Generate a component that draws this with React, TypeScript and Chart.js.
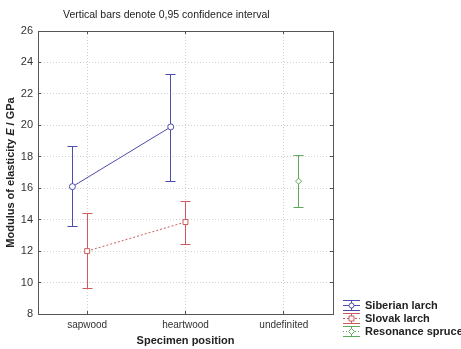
import React, { useEffect, useRef } from "react";
import { Chart, registerables } from "chart.js";

Chart.register(...registerables);

const categories = ["sapwood", "heartwood", "undefinited"];
const yTicks = [8, 10, 12, 14, 16, 18, 20, 22, 24, 26];

const siberianCat = [0, 1];
const siberianMean = [16.1, 19.9];
const siberianLow = [13.55, 16.45];
const siberianHigh = [18.65, 23.25];

const slovakCat = [0, 1];
const slovakMean = [12.0, 13.85];
const slovakLow = [9.6, 12.45];
const slovakHigh = [14.4, 15.15];

const spruceCat = [2];
const spruceMean = [16.45];
const spruceLow = [14.75];
const spruceHigh = [18.1];

const BLUE = "#4d4dab";
const RED = "#cc5c5c";
const GREEN = "#5ea85e";
const FONT = "'Liberation Sans', Arial, sans-serif";

type Series = {
  label: string;
  cat: number[];
  mean: number[];
  low: number[];
  high: number[];
  color: string;
  offset: number;
  dash: number[];
  pointStyle: string;
  radius: number;
};

const series: Series[] = [
  { label: "Siberian larch", cat: siberianCat, mean: siberianMean, low: siberianLow, high: siberianHigh, color: BLUE, offset: -0.15, dash: [], pointStyle: "circle", radius: 3 },
  { label: "Slovak larch", cat: slovakCat, mean: slovakMean, low: slovakLow, high: slovakHigh, color: RED, offset: 0, dash: [2, 2], pointStyle: "rect", radius: 3.5 },
  { label: "Resonance spruce", cat: spruceCat, mean: spruceMean, low: spruceLow, high: spruceHigh, color: GREEN, offset: 0.15, dash: [1, 2], pointStyle: "rectRot", radius: 3 },
];

const align = (p: number) => Math.round(p - 0.5) + 0.5;

function drawMarker(ctx: CanvasRenderingContext2D, style: string, x: number, y: number, r: number, color: string) {
  ctx.save();
  ctx.setLineDash([]);
  ctx.strokeStyle = color;
  ctx.fillStyle = "#fff";
  ctx.lineWidth = 1;
  ctx.beginPath();
  if (style === "circle") ctx.arc(x, y, r, 0, Math.PI * 2);
  else if (style === "rect") ctx.rect(x - r, y - r, 2 * r, 2 * r);
  else {
    ctx.moveTo(x, y - r - 0.5);
    ctx.lineTo(x + r + 0.5, y);
    ctx.lineTo(x, y + r + 0.5);
    ctx.lineTo(x - r - 0.5, y);
    ctx.closePath();
  }
  ctx.fill();
  ctx.stroke();
  ctx.restore();
}

const decorPlugin = {
  id: "decor",
  beforeDatasetsDraw(chart: any) {
    const ctx: CanvasRenderingContext2D = chart.ctx;
    const xs = chart.scales.x;
    const ys = chart.scales.y;
    ctx.save();
    ctx.lineWidth = 1;
    ctx.setLineDash([]);
    series.forEach((s) => {
      ctx.strokeStyle = s.color;
      s.cat.forEach((c, i) => {
        const x = align(xs.getPixelForValue(c + s.offset));
        const yl = align(ys.getPixelForValue(s.low[i]));
        const yh = align(ys.getPixelForValue(s.high[i]));
        ctx.beginPath();
        ctx.moveTo(x, yl);
        ctx.lineTo(x, yh);
        ctx.moveTo(x - 5, yl);
        ctx.lineTo(x + 5, yl);
        ctx.moveTo(x - 5, yh);
        ctx.lineTo(x + 5, yh);
        ctx.stroke();
      });
    });
    ctx.restore();
  },
  afterDraw(chart: any) {
    const ctx: CanvasRenderingContext2D = chart.ctx;
    const a = chart.chartArea;
    const xs = chart.scales.x;
    const ys = chart.scales.y;
    ctx.save();
    // frame
    ctx.strokeStyle = "#555";
    ctx.lineWidth = 1;
    ctx.strokeRect(align(a.left), align(a.top), Math.round(a.right - a.left), Math.round(a.bottom - a.top));
    // inner ticks
    ctx.beginPath();
    yTicks.forEach((v) => {
      const y = align(ys.getPixelForValue(v));
      ctx.moveTo(a.left, y);
      ctx.lineTo(a.left + 3, y);
      ctx.moveTo(a.right, y);
      ctx.lineTo(a.right - 3, y);
    });
    categories.forEach((_, i) => {
      const x = align(xs.getPixelForValue(i));
      ctx.moveTo(x, a.bottom);
      ctx.lineTo(x, a.bottom - 3);
      ctx.moveTo(x, a.top);
      ctx.lineTo(x, a.top + 3);
    });
    ctx.stroke();

    // title
    ctx.fillStyle = "#222";
    ctx.font = `10.5px ${FONT}`;
    ctx.textAlign = "left";
    ctx.textBaseline = "middle";
    ctx.fillText("Vertical bars denote 0,95 confidence interval", 63, 15);

    // x title
    ctx.font = `bold 11px ${FONT}`;
    ctx.textAlign = "center";
    ctx.fillText("Specimen position", (a.left + a.right) / 2, 341);

    // y title with italic E
    ctx.save();
    ctx.translate(11, (a.top + a.bottom) / 2);
    ctx.rotate(-Math.PI / 2);
    const p1 = "Modulus of elasticity ";
    const p2 = "E";
    const p3 = " / GPa";
    const fB = `bold 11px ${FONT}`;
    const fBI = `italic bold 11px ${FONT}`;
    ctx.font = fB;
    const w1 = ctx.measureText(p1).width;
    const w3 = ctx.measureText(p3).width;
    ctx.font = fBI;
    const w2 = ctx.measureText(p2).width;
    const x0 = -(w1 + w2 + w3) / 2;
    ctx.textAlign = "left";
    ctx.font = fB;
    ctx.fillText(p1, x0, 0);
    ctx.font = fBI;
    ctx.fillText(p2, x0 + w1, 0);
    ctx.font = fB;
    ctx.fillText(p3, x0 + w1 + w2, 0);
    ctx.restore();

    // legend
    const lx = 343;
    const rows = [305, 318, 331];
    series.forEach((s, i) => {
      const y = rows[i] + 0.5;
      ctx.strokeStyle = s.color;
      ctx.lineWidth = 1;
      ctx.setLineDash([]);
      ctx.beginPath();
      ctx.moveTo(lx, y - 5);
      ctx.lineTo(lx + 17, y - 5);
      ctx.moveTo(lx, y + 5);
      ctx.lineTo(lx + 17, y + 5);
      ctx.moveTo(lx + 8.5, y - 5);
      ctx.lineTo(lx + 8.5, y + 5);
      ctx.stroke();
      ctx.setLineDash(s.dash);
      ctx.beginPath();
      ctx.moveTo(lx, y);
      ctx.lineTo(lx + 17, y);
      ctx.stroke();
      ctx.setLineDash([]);
      drawMarker(ctx, s.pointStyle, lx + 8.5, y, 2.5, s.color);
      ctx.fillStyle = "#222";
      ctx.font = `bold 11px ${FONT}`;
      ctx.textAlign = "left";
      ctx.textBaseline = "middle";
      ctx.fillText(s.label, 365, rows[i] + 0.5);
    });
    ctx.restore();
  },
};

export default function App() {
  const ref = useRef<HTMLCanvasElement>(null);
  useEffect(() => {
    if (!ref.current) return;
    const datasets = series.map((s) => ({
      label: s.label,
      data: s.cat.map((c, i) => ({ x: c + s.offset, y: s.mean[i] })),
      showLine: true,
      borderColor: s.color,
      borderWidth: 1,
      borderDash: s.dash,
      pointStyle: s.pointStyle,
      pointRadius: s.radius,
      pointBorderColor: s.color,
      pointBackgroundColor: "#fff",
      pointBorderWidth: 1,
    }));
    const chart = new Chart(ref.current, {
      type: "scatter",
      data: { datasets: datasets as any },
      options: {
        animation: false,
        responsive: false,
        maintainAspectRatio: false,
        layout: { padding: { top: 31, right: 128, left: 0, bottom: 0 } },
        plugins: { legend: { display: false }, tooltip: { enabled: false }, title: { display: false } },
        scales: {
          x: {
            type: "linear",
            min: -0.5,
            max: 2.5,
            afterBuildTicks: (scale: any) => {
              scale.ticks = categories.map((_, i) => ({ value: i }));
            },
            afterFit: (scale: any) => {
              scale.height = 35;
            },
            ticks: {
              callback: (v: any) => categories[v as number] ?? "",
              font: { family: FONT, size: 10 },
              color: "#333",
              padding: 5,
              maxRotation: 0,
              autoSkip: false,
            },
            grid: { color: "#d0d0d0", drawTicks: false, lineWidth: 1 },
            border: { display: false, dash: [1, 2] },
          },
          y: {
            min: 8,
            max: 26,
            afterBuildTicks: (scale: any) => {
              scale.ticks = yTicks.map((v) => ({ value: v }));
            },
            afterFit: (scale: any) => {
              scale.width = 38;
            },
            ticks: {
              font: { family: FONT, size: 11 },
              color: "#333",
              padding: 5,
            },
            grid: { color: "#d0d0d0", drawTicks: false, lineWidth: 1 },
            border: { display: false, dash: [1, 2] },
          },
        },
      },
      plugins: [decorPlugin],
    });
    return () => chart.destroy();
  }, []);
  return (
    <canvas
      ref={ref}
      width={461}
      height={349}
      style={{ position: "fixed", left: 0, top: 0, width: 461, height: 349, display: "block", background: "#fff" }}
    />
  );
}
